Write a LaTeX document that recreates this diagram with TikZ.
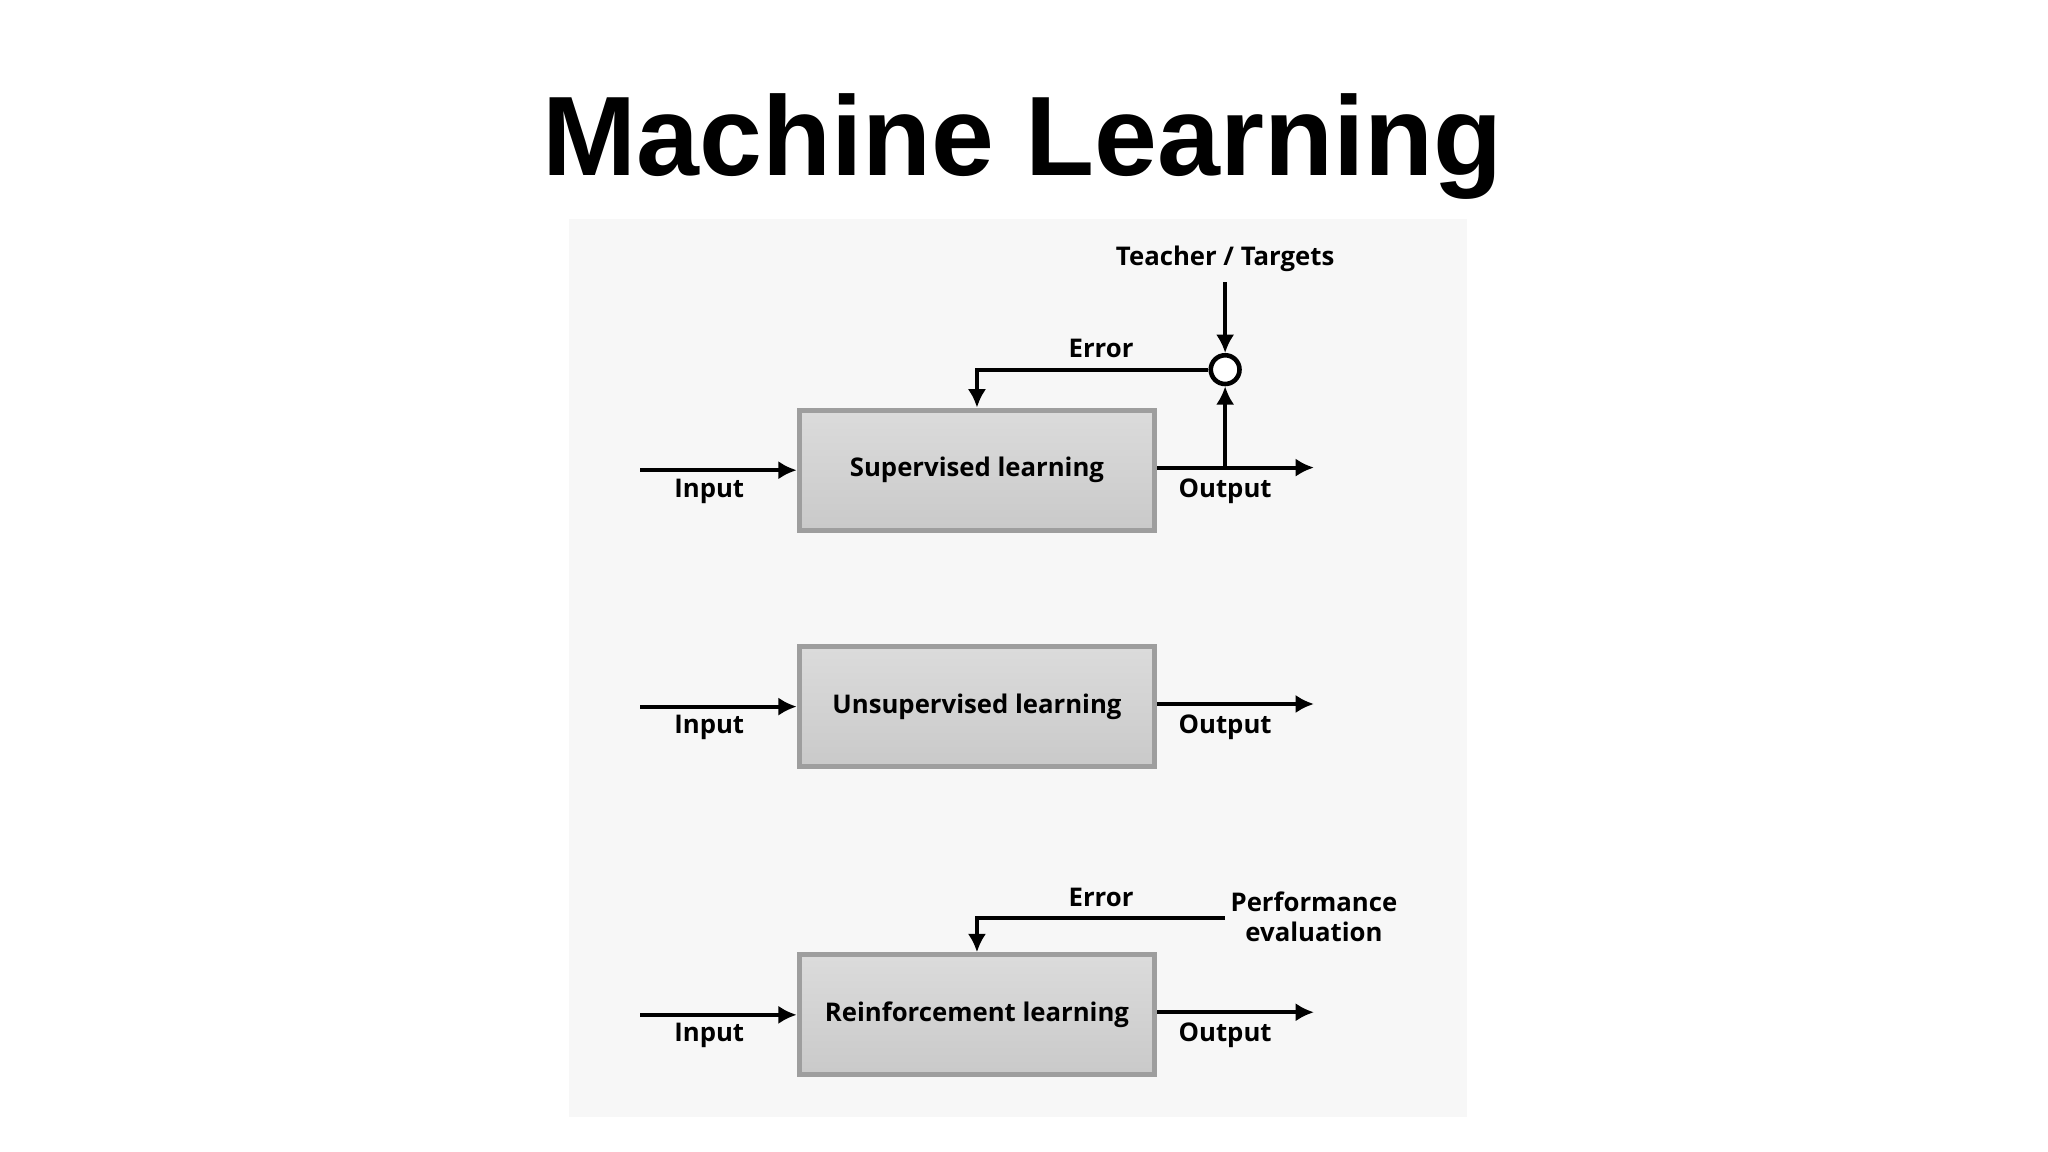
\documentclass[tikz,border=0pt]{standalone}
\usepackage{fontspec}
\setmainfont{Open Sans}
\newfontfamily\titlefont{Liberation Sans}
\usetikzlibrary{arrows.meta}
\begin{document}
\begin{tikzpicture}[x=0.01cm,y=-0.01cm,
  box/.style={draw=black!38,line width=1.1pt,top color=black!14,bottom color=black!20,minimum width=271\pgflinewidth,inner sep=0pt},
  ln/.style={line width=0.9pt,-{Latex[length=4pt,width=4pt]}},
  pl/.style={line width=0.9pt},
  lbl/.style={font=\fontsize{5.6}{6.5}\selectfont\bfseries,inner sep=0pt,align=center}]
\useasboundingbox (0,0) rectangle (1568,882);
\fill[black!3] (436,168) rectangle (1123,855);
\node[font=\titlefont\bfseries\fontsize{24.6}{28}\selectfont,inner sep=0pt] (title) at (783,112) {Machine Learning};
\foreach \n/\t/\y in {s/Supervised learning/360, u/Unsupervised learning/541, r/Reinforcement learning/777}{
  \node[draw=black!38,line width=1.1pt,top color=black!14,bottom color=black!21,minimum width=2.72cm,minimum height=0.92cm,lbl] (\n) at (748,\y) {\t};
  \coordinate (\n in) at (490,\y);
  \coordinate (\n out) at (1006,\y-2);
  \draw[ln] (\n in) -- (\n.west|-\n in);
  \draw[ln] (\n.east|-\n out) -- (\n out);
  \node[lbl] (\n il) at (543,\y+16) {Input};
  \node[lbl] (\n ol) at (938,\y+16) {Output};
}
\node[draw,circle,line width=1pt,fill=white,minimum size=0.22cm,inner sep=0pt] (c) at (938,283) {};
\node[lbl] (teach) at (938,198) {Teacher / Targets};
\coordinate (tt) at (938,216);
\draw[ln] (tt) -- (c.north);
\coordinate (so) at (938,358);
\draw[ln] (so) -- (c.south);
\coordinate (e1) at (748,283);
\draw[ln] (c.west) -- (e1) -- (s.north);
\node[lbl] (err1) at (843,267) {Error};
\node[lbl] (perf) at (1006,702) {Performance\\evaluation};
\coordinate (p1) at (938,703);
\coordinate (e2) at (748,703);
\draw[ln] (p1) -- (e2) -- (r.north);
\node[lbl] (err2) at (843,687) {Error};
\end{tikzpicture}
\end{document}
